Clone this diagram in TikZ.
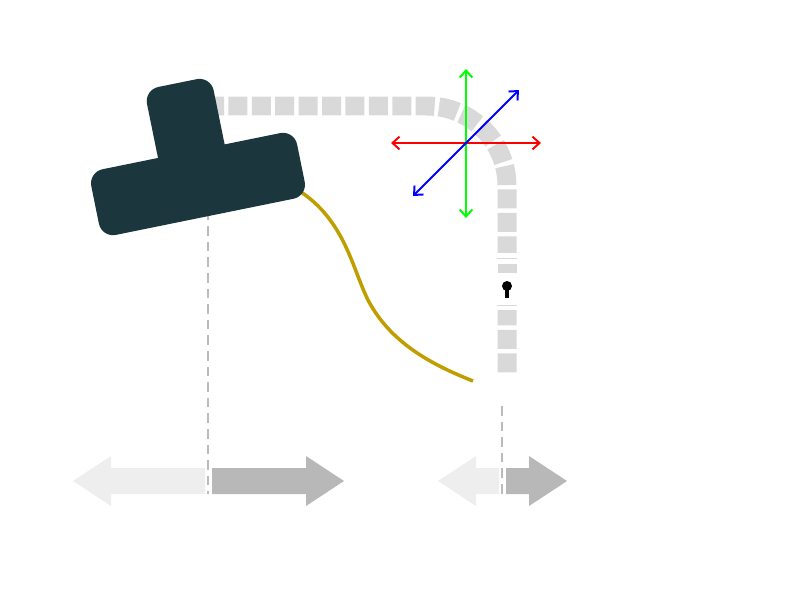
\documentclass[tikz,border=0pt]{standalone}
\usetikzlibrary{arrows.meta}

\definecolor{lampteal}{RGB}{28,54,62}
\definecolor{trackgray}{RGB}{217,217,217}
\definecolor{guidegray}{RGB}{187,187,187}
\definecolor{paleshaft}{RGB}{238,238,238}
\definecolor{darkshaft}{RGB}{184,184,184}
\definecolor{cablegold}{RGB}{191,158,0}

\tikzset{
  track/.style={trackgray,line width=13.5pt,rounded corners=2cm,
    dash pattern=on 4.75mm off 1.1mm},
  guide/.style={guidegray,line width=1.4pt,dash pattern=on 2.4mm off 1.5mm},
  cable/.style={cablegold,line width=2.5pt},
  axis/.style={line width=1.4pt,
    {Straight Barb[length=5pt,width=9pt]}-{Straight Barb[length=5pt,width=9pt]}},
  lampbody/.style={fill=lampteal,rounded corners=3.6mm}
}

\begin{document}
\begin{tikzpicture}[x=0.025cm,y=-0.025cm]

  \useasboundingbox (0,0) rectangle (800,600);

  % named points
  \coordinate (o)  at (466,143);
  \coordinate (xl) at (391,143);
  \coordinate (xr) at (541,143);
  \coordinate (yt) at (466,69);
  \coordinate (yb) at (466,218);
  \coordinate (zl) at (413,196);
  \coordinate (zr) at (519,90);
  \coordinate (cs) at (298,190);
  \coordinate (ce) at (473,381);

  % bottom arrows
  \fill[paleshaft] (205,468) -- (111,468) -- (111,456) -- (73,481)
    -- (111,506) -- (111,494) -- (205,494) -- cycle;
  \fill[darkshaft] (212,468) -- (306,468) -- (306,456) -- (344,481)
    -- (306,506) -- (306,494) -- (212,494) -- cycle;
  \fill[paleshaft] (499,468) -- (476,468) -- (476,456) -- (438,481)
    -- (476,506) -- (476,494) -- (499,494) -- cycle;
  \fill[darkshaft] (506,468) -- (529,468) -- (529,456) -- (567,481)
    -- (529,506) -- (529,494) -- (506,494) -- cycle;

  % guide lines
  \draw[guide] (208,195) -- (208,494);
  \draw[guide] (502,406) -- (502,494);

  % track
  \draw[track] (205,106) -- (507,106) -- (507,375);
  \fill[white] (495,253) rectangle (519,310);
  \fill[trackgray] (497.5,264) rectangle (516.5,273);
  \draw[trackgray,line width=0.5pt] (497,258) -- (517,258);
  \draw[trackgray,line width=0.5pt] (497,305) -- (517,305);
  \fill (507,286) circle (5);
  \fill (505,286) rectangle (509,298);

  % cable
  \draw[cable] (cs) .. controls (345,220) and (352,268) .. (368,300)
    .. controls (390,342) and (430,364) .. (ce);

  % lamp
  \begin{scope}[shift={(198,184)},rotate=11.5]
    \fill[lampbody] (-105,-33.5) rectangle (105,33.5);
    \fill[lampbody] (-34,-103) rectangle (34,10);
  \end{scope}

  % axes
  \draw[axis,red]   (xl) -- (xr);
  \draw[axis,green] (yb) -- (yt);
  \draw[axis,blue]  (zl) -- (zr);

\end{tikzpicture}
\end{document}
